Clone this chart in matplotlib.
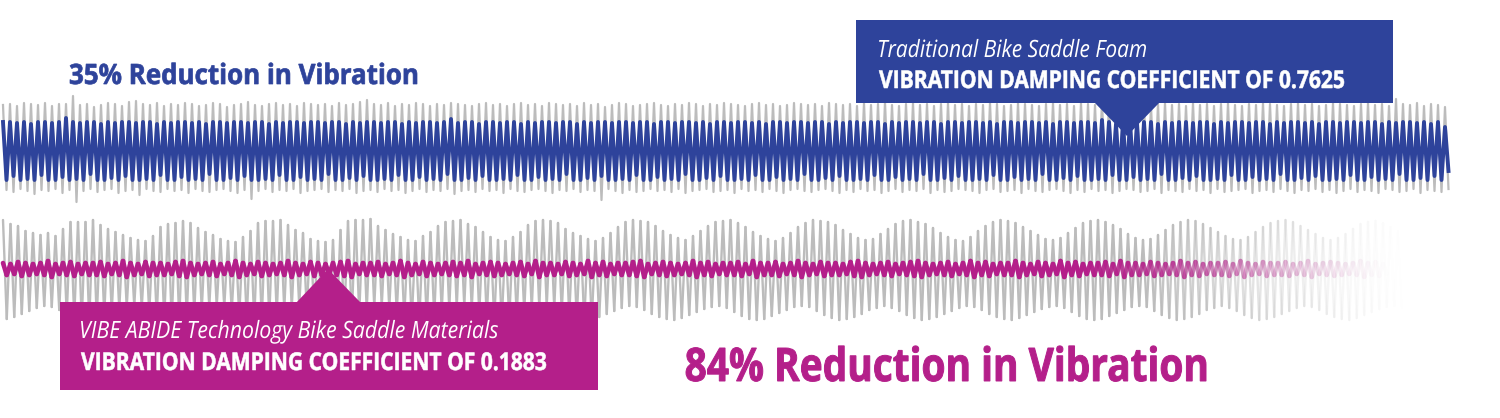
import matplotlib.pyplot as plt
import numpy as np
from matplotlib.collections import LineCollection
from matplotlib.patches import Polygon, Rectangle, PathPatch
from matplotlib.colors import to_rgba
from matplotlib.textpath import TextPath
from matplotlib.font_manager import FontProperties
from matplotlib.transforms import Affine2D

# Colours
BLUE = '#2E439B'
MAGENTA = '#B41F8A'
GRAY = '#BCBCBC'

# Traditional foam trace: per-cycle peak heights (upper/lower) of raw input (gray) and damped output (blue)
foam_input_top = [
    46, 47, 45, 48, 47, 46, 48, 45, 47, 47, 55, 46, 47, 44, 46, 48, 47, 45, 49, 50, 47, 46, 48,
    45, 47, 46, 48, 47, 45, 46, 48, 47, 44, 46, 47, 49, 46, 45, 47, 48, 46, 47, 45, 48, 47, 46,
    47, 45, 48, 46, 47, 49, 51, 47, 46, 48, 45, 47, 46, 48, 47, 45, 47, 46, 48, 47, 46, 45, 47,
    48, 46, 47, 45, 47, 48, 46, 47, 45, 48, 47, 46, 47, 45, 48, 46, 47, 44, 46, 48, 47, 45, 46,
    47, 48, 46, 45, 47, 46, 48, 47, 45, 47, 46, 48, 47, 46, 45, 47, 48, 46, 47, 45, 46, 48, 47,
    46, 47, 45, 48, 47, 46, 47, 45, 48, 46, 47, 49, 46, 45, 47, 48, 46, 47, 45, 47, 48, 46, 47,
    45, 47, 46, 48, 47, 45, 46, 48, 47, 46, 45, 47, 48, 46, 47, 45, 48, 47, 46, 50, 47, 45, 46,
    48, 47, 46, 45, 47, 48, 46, 47, 45, 48, 46, 47, 45, 47, 48, 46, 45, 47, 46, 48, 47, 46, 45,
    47, 48, 46, 47, 45, 46, 48, 47, 46, 45, 47, 48, 46, 47, 45, 52, 47, 46, 48, 45, 47, 46, 44,
]
foam_input_bot = [
    39, 41, 38, 40, 43, 39, 40, 38, 42, 39, 51, 40, 38, 41, 39, 38, 42, 40, 39, 44, 38, 40, 41,
    38, 40, 39, 42, 38, 40, 41, 39, 38, 40, 42, 39, 48, 40, 38, 41, 39, 40, 38, 42, 40, 39, 38,
    41, 39, 40, 38, 42, 40, 39, 41, 38, 40, 39, 42, 40, 38, 41, 39, 40, 38, 43, 40, 39, 41, 38,
    40, 39, 42, 38, 40, 41, 39, 38, 40, 42, 39, 40, 38, 41, 39, 40, 49, 38, 40, 42, 39, 41, 40,
    38, 40, 39, 41, 38, 42, 40, 39, 38, 41, 40, 39, 42, 38, 40, 39, 41, 38, 40, 42, 39, 38, 40,
    41, 39, 38, 40, 42, 39, 41, 38, 40, 39, 42, 40, 38, 41, 39, 40, 38, 42, 39, 41, 40, 38, 39,
    40, 42, 39, 38, 41, 40, 39, 42, 38, 40, 41, 39, 38, 40, 42, 39, 41, 38, 40, 39, 42, 40, 38,
    39, 41, 40, 38, 42, 39, 40, 41, 38, 40, 39, 42, 38, 41, 40, 39, 38, 42, 40, 39, 41, 38, 40,
    42, 39, 40, 38, 41, 39, 42, 40, 38, 41, 39, 40, 42, 38, 39, 41, 40, 38, 42, 39, 40, 41, 38,
]
foam_output_top = [
    29, 29, 28, 29, 27, 29, 29, 28, 29, 33, 29, 28, 29, 29, 27, 29, 28, 29, 29, 28, 29, 29, 27,
    29, 28, 29, 29, 28, 29, 27, 29, 29, 28, 29, 29, 28, 29, 29, 27, 29, 28, 29, 29, 28, 29, 29,
    28, 29, 29, 27, 29, 28, 29, 29, 28, 29, 29, 27, 29, 28, 29, 29, 28, 29, 32, 28, 29, 29, 27,
    29, 29, 28, 29, 29, 27, 29, 28, 29, 29, 28, 29, 29, 27, 29, 28, 29, 29, 28, 29, 29, 28, 29,
    29, 27, 29, 29, 28, 29, 29, 28, 29, 27, 29, 29, 28, 29, 29, 28, 29, 27, 29, 29, 28, 29, 29,
    28, 29, 29, 27, 29, 28, 29, 29, 28, 29, 29, 27, 29, 28, 29, 29, 28, 29, 29, 27, 29, 29, 28,
    29, 29, 28, 29, 27, 29, 29, 28, 29, 29, 28, 29, 27, 29, 29, 28, 29, 29, 28, 31, 29, 27, 29,
    29, 28, 29, 29, 27, 29, 28, 29, 29, 28, 29, 29, 27, 29, 28, 29, 29, 28, 29, 29, 27, 29, 28,
    29, 29, 28, 29, 27, 29, 29, 28, 29, 29, 28, 29, 29, 27, 29, 28, 29, 29, 28, 29, 27, 29, 24,
]
foam_output_bot = [
    29, 25, 29, 28, 29, 24, 29, 29, 26, 29, 28, 29, 23, 29, 29, 27, 29, 25, 29, 29, 28, 29, 24,
    29, 29, 26, 29, 28, 29, 23, 29, 29, 27, 29, 25, 29, 29, 28, 29, 24, 29, 29, 26, 29, 28, 29,
    23, 29, 29, 27, 29, 25, 29, 29, 28, 29, 24, 29, 29, 26, 29, 28, 29, 23, 29, 29, 27, 29, 25,
    29, 29, 28, 29, 24, 29, 29, 26, 29, 28, 29, 23, 29, 29, 27, 29, 25, 29, 29, 28, 29, 24, 29,
    29, 26, 29, 28, 29, 23, 29, 29, 27, 29, 25, 29, 29, 28, 29, 24, 29, 29, 26, 29, 28, 29, 23,
    29, 29, 27, 29, 25, 29, 29, 28, 29, 24, 29, 29, 26, 29, 28, 29, 23, 29, 29, 27, 29, 25, 29,
    29, 28, 29, 24, 29, 29, 26, 29, 28, 29, 23, 29, 29, 27, 29, 25, 29, 29, 28, 29, 24, 29, 29,
    26, 29, 28, 29, 23, 29, 29, 27, 29, 25, 29, 29, 28, 29, 24, 29, 29, 26, 29, 28, 29, 23, 29,
    29, 27, 29, 25, 29, 29, 28, 29, 24, 29, 29, 26, 29, 28, 29, 23, 29, 29, 27, 29, 25, 29, 20,
]

# VIBE ABIDE trace: raw input (gray) and damped output (magenta)
vibe_input_top = [
    49, 45, 43, 38, 36, 34, 36, 33, 40, 47, 47, 47, 49,
    44, 40, 37, 34, 31, 29, 28, 33, 42, 45, 46, 48, 46,
    41, 37, 34, 30, 28, 27, 32, 38, 46, 48, 48, 49, 44,
    39, 36, 30, 28, 27, 29, 39, 48, 49, 49, 50, 43, 39,
    35, 32, 29, 28, 33, 37, 43, 47, 48, 49, 45, 42, 37,
    32, 29, 28, 32, 37, 44, 48, 49, 48, 46, 40, 36, 33,
    30, 28, 31, 36, 42, 47, 49, 48, 47, 43, 38, 34, 31,
    29, 33, 38, 43, 47, 48, 49, 46, 42, 37, 33, 30, 28,
    31, 36, 42, 46, 49, 48, 47, 44, 39, 35, 31, 29, 30,
    35, 40, 45, 48, 49, 47, 45, 41, 36, 32, 29, 28, 32,
    38, 43, 47, 49, 48, 46, 42, 38, 34, 30, 29, 31, 36,
    41, 46, 48, 49, 47, 44, 40, 35, 31, 29, 30, 34, 39,
    44, 47, 49, 48, 45, 41, 37, 33, 30, 29, 32, 37, 42,
    46, 48, 49, 47, 43, 39, 35, 31, 29, 31, 35, 40, 45,
    47, 48, 46, 42, 38,
]
vibe_input_bot = [
    50, 48, 45, 42, 39, 37, 38, 41, 45, 48, 50, 51, 49, 46, 43, 40, 38,
    37, 39, 43, 47, 50, 51, 50, 47, 44, 41, 38, 37, 38, 42, 46, 49, 51,
    50, 48, 45, 41, 39, 37, 39, 42, 46, 49, 51, 50, 48, 44, 41, 38, 37,
    39, 43, 47, 50, 51, 49, 47, 43, 40, 38, 37, 40, 44, 48, 50, 51, 49,
    46, 43, 40, 38, 37, 39, 43, 46, 49, 51, 50, 48, 45, 42, 39, 37, 38,
    41, 45, 48, 50, 51, 49, 46, 43, 40, 38, 37, 39, 43, 47, 50, 51, 50,
    47, 44, 41, 38, 37, 38, 42, 46, 49, 51, 50, 48, 45, 41, 39, 37, 39,
    42, 46, 49, 51, 50, 48, 45, 42, 39, 37, 38, 41, 45, 48, 50, 51, 49,
    46, 43, 40, 38, 37, 39, 43, 47, 50, 51, 50, 47, 44, 41, 38, 37, 38,
    42, 46, 49, 51, 50, 48, 45, 41, 39, 37, 39, 42, 46, 49, 51, 50, 48,
    45, 42, 39, 37, 38, 41, 45, 48, 50, 51, 49, 46, 43, 40, 38, 37, 39,
]
vibe_output_amp = [
    6, 5, 7, 6, 5, 6, 8, 5, 6, 7, 5, 6, 6, 7, 5, 6, 8,
    6, 5, 7, 6, 6, 5, 7, 8, 6, 5, 6, 7, 5, 6, 8, 6, 5,
    7, 6, 5, 6, 8, 6, 5, 7, 6, 5, 6, 7, 8, 5, 6, 6, 7,
    5, 6, 8, 6, 5, 7, 6, 5, 6, 7, 6, 8, 5, 6, 7, 6, 5,
    6, 7, 5, 8, 6, 6, 5, 7, 6, 5, 8, 6, 7, 5, 6, 6, 7,
    8, 5, 6, 7, 6, 5, 6, 8, 6, 7, 5, 6, 6, 7, 5, 8, 6,
    6, 7, 5, 6, 8, 6, 5, 7, 6, 6, 5, 7, 8, 6, 5, 6, 7,
    5, 6, 7, 8, 6, 5, 6, 7, 5, 6, 8, 6, 7, 5, 6, 6, 8,
    6, 5, 7, 6, 5, 8, 6, 7, 5, 6, 6, 7, 5, 8, 6, 6, 5,
    7, 6, 5, 6, 8, 6, 7, 5, 6, 6, 7, 5, 8, 6, 5, 7, 6,
    6, 7, 5, 6, 8, 5, 6, 7, 6, 5, 6, 8, 6, 7, 5, 6, 6,
]

labels = {
    'foam_title': 'Traditional Bike Saddle Foam',
    'foam_coef': 'VIBRATION DAMPING COEFFICIENT OF 0.7625',
    'foam_red': '35% Reduction in Vibration',
    'vibe_title': 'VIBE ABIDE Technology Bike Saddle Materials',
    'vibe_coef': 'VIBRATION DAMPING COEFFICIENT OF 0.1883',
    'vibe_red': '84% Reduction in Vibration',
}


def zigzag(top, bot):
    top = np.asarray(top, float)
    bot = np.asarray(bot, float)
    x = np.empty(2 * len(top))
    x[0::2] = np.arange(len(top))
    x[1::2] = np.arange(len(top)) + 0.5
    y = np.empty(2 * len(top))
    y[0::2] = top
    y[1::2] = -bot
    return x, y


def faded_line(ax, x, y, color, lw, start, end, z):
    # fade from full colour at 'start' to nothing at 'end' (axes fraction)
    pts = np.column_stack([x, y])
    segs = np.stack([pts[:-1], pts[1:]], axis=1)
    xl = ax.get_xlim()
    fx = ((x[:-1] + x[1:]) / 2 - xl[0]) / (xl[1] - xl[0])
    alpha = np.clip((end - fx) / (end - start), 0, 1) ** 1.6
    rgba = np.tile(to_rgba(color), (len(segs), 1))
    rgba[:, 3] = alpha
    lc = LineCollection(segs, colors=rgba, linewidths=lw, capstyle='round', zorder=z)
    ax.add_collection(lc)


fig = plt.figure(figsize=(15, 4.18), dpi=100)

# upper trace (traditional foam)
ax_u = fig.add_axes([0, (418 - 212) / 418, 1, 122 / 418])
ax_u.set_xlim(-3 / 7.0, 1497 / 7.0)
ax_u.set_ylim(-61, 61)
gx, gy = zigzag(foam_input_top, foam_input_bot)
ax_u.plot(gx, gy, color=GRAY, lw=1.6, solid_joinstyle='round', zorder=1)
bx, by = zigzag(foam_output_top, foam_output_bot)
ax_u.plot(bx, by, color=BLUE, lw=2.8, solid_joinstyle='round', zorder=2)
ax_u.axis('off')

# lower trace (VIBE ABIDE)
ax_l = fig.add_axes([0, (418 - 330) / 418, 1, 122 / 418])
ax_l.set_xlim(-3 / 7.5, 1497 / 7.5)
ax_l.set_ylim(-61, 61)
gx, gy = zigzag(vibe_input_top, vibe_input_bot)
faded_line(ax_l, gx, gy, GRAY, 1.7, 0.76, 0.94, 1)
px_, py_ = zigzag(vibe_output_amp, vibe_output_amp)
faded_line(ax_l, px_, py_, MAGENTA, 3.3, 0.72, 0.93, 2)
ax_l.axis('off')

# overlay for call-outs and headings (pixel coordinates)
ax_o = fig.add_axes([0, 0, 1, 1])
ax_o.set_zorder(5)
ax_o.set_xlim(0, 1500)
ax_o.set_ylim(418, 0)
ax_o.patch.set_alpha(0)
ax_o.axis('off')

ax_o.add_patch(Rectangle((856, 20), 537, 83, color=BLUE, lw=0))
ax_o.add_patch(Polygon([(1094, 102), (1160, 102), (1127, 136)], color=BLUE, lw=0))
ax_o.add_patch(Rectangle((60, 302), 538, 88, color=MAGENTA, lw=0))
ax_o.add_patch(Polygon([(296, 303), (361, 303), (328, 269)], color=MAGENTA, lw=0))


def condensed_text(x, baseline, s, width, cap, color, weight='bold', style='normal', heavy=0.0):
    # draw text as a path squeezed to the given width and cap height (condensed face)
    prop = FontProperties(family=['Open Sans', 'DejaVu Sans'], weight=weight, style=style)
    cap_h = TextPath((0, 0), 'H', size=100, prop=prop).get_extents().height
    tp = TextPath((0, 0), s, size=100, prop=prop)
    ext = tp.get_extents()
    sx = width / ext.width
    sy = cap / cap_h
    tr = Affine2D().translate(-ext.x0, 0).scale(sx, -sy).translate(x, baseline)
    ax_o.add_patch(PathPatch(tr.transform_path(tp), facecolor=color,
                             edgecolor=color if heavy else 'none', lw=heavy))


condensed_text(70, 84, labels['foam_red'], 347, 20, BLUE, heavy=0.5)
condensed_text(879, 57, labels['foam_title'], 267, 17, 'white', weight='normal', style='italic')
condensed_text(879, 88, labels['foam_coef'], 465, 17.5, 'white', heavy=0.4)
condensed_text(81, 338, labels['vibe_title'], 417, 17, 'white', weight='normal', style='italic')
condensed_text(81, 370, labels['vibe_coef'], 465, 17.5, 'white', heavy=0.4)
condensed_text(686, 381, labels['vibe_red'], 520, 33, MAGENTA, heavy=0.7)

fig.savefig('out.png', dpi=100, facecolor='white')
